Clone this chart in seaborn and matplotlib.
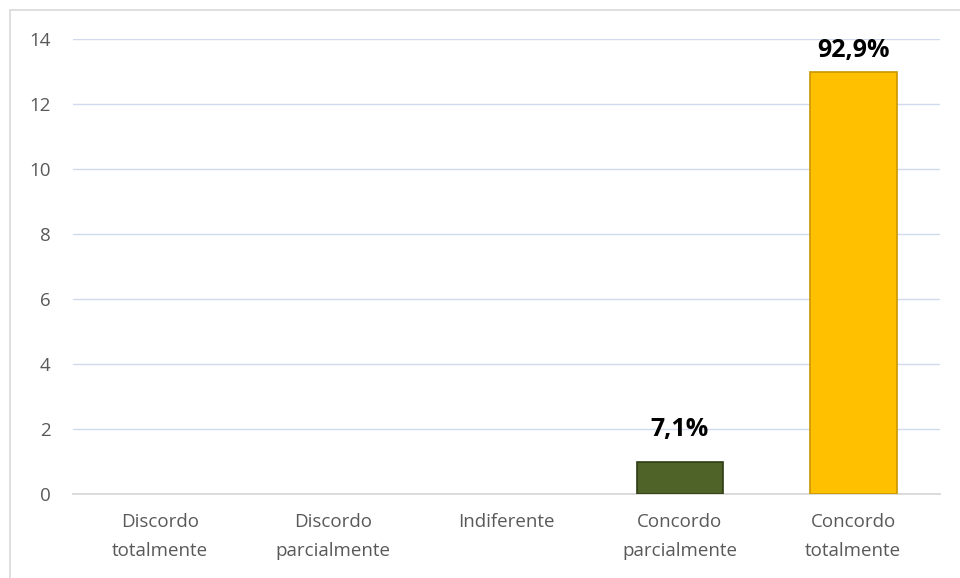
import matplotlib
matplotlib.use("Agg")
import matplotlib.pyplot as plt
import seaborn as sns
import pandas as pd
from matplotlib.patches import Rectangle

categories = ["Discordo\ntotalmente", "Discordo\nparcialmente", "Indiferente",
              "Concordo\nparcialmente", "Concordo\ntotalmente"]
values = [0, 0, 0, 1, 13]
pct_labels = ["", "", "", "7,1%", "92,9%"]
bar_colors = ["#4F6228", "#4F6228", "#4F6228", "#4F6228", "#FFC000"]
edge_colors = ["#3A4A1C", "#3A4A1C", "#3A4A1C", "#2F3D14", "#C99700"]
yticks = [0, 2, 4, 6, 8, 10, 12, 14]

sns.set_theme(style="white")
plt.rcParams['font.family'] = ['Open Sans', 'DejaVu Sans']

df = pd.DataFrame({"cat": categories, "val": values})

fig = plt.figure(figsize=(9.6, 5.78), dpi=100)
ax = fig.add_axes([73/960, 1-494/578, (940-73)/960, (494-39)/578])

sns.barplot(data=df, x="cat", y="val", hue="cat", palette=bar_colors,
            saturation=1, legend=False, width=0.5, ax=ax, zorder=3)
for p, ec, v in zip(ax.patches, edge_colors, values):
    if v == 0:
        p.set_visible(False)
        continue
    p.set_edgecolor(ec)
    p.set_linewidth(1.2)

ax.set_ylim(0, 14)
ax.set_xlim(-0.5, 4.5)
ax.set_yticks(yticks)
ax.set_yticklabels([str(t) for t in yticks])
ax.yaxis.grid(True, color="#CFDBEC", linewidth=1.0, zorder=0)
ax.set_axisbelow(True)
for s in ["top", "right", "left"]:
    ax.spines[s].set_visible(False)
ax.spines["bottom"].set_color("#D9D9D9")
ax.spines["bottom"].set_linewidth(1.3)
ax.tick_params(axis="both", length=0, labelsize=13.5, labelcolor="#595959")
ax.tick_params(axis="y", pad=16)
ax.tick_params(axis="x", pad=14)
ax.set_xticks(range(len(categories)))
ax.set_xticklabels(categories, linespacing=1.75)
ax.set_xlabel("")
ax.set_ylabel("")

offsets = [6, 6, 6, 14, 6]
for i, (v, lab, off) in enumerate(zip(values, pct_labels, offsets)):
    if lab:
        ax.annotate(lab, (i, v), xytext=(0, off), textcoords="offset points",
                    ha="center", va="bottom", fontsize=18, fontweight="bold",
                    color="black")

# chart frame
fig.patches.append(Rectangle((10/960, -0.01), 1.0, 1 - 10/578 + 0.01,
                             transform=fig.transFigure, fill=False,
                             edgecolor="#D9D9D9", linewidth=1.2))

fig.savefig("out.png", dpi=100)
